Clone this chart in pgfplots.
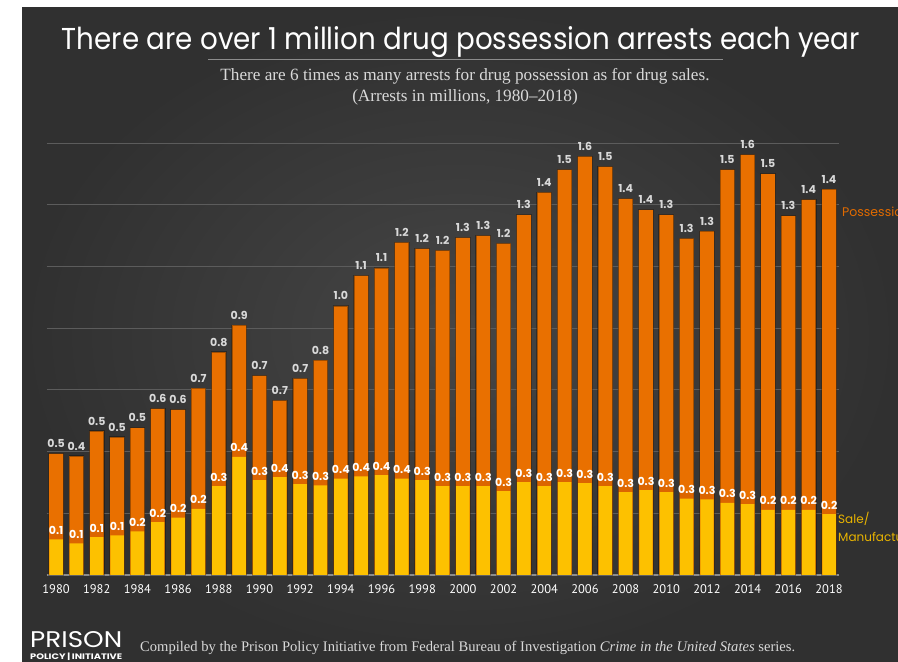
\documentclass[border=0pt]{standalone}
\usepackage{fontspec}
\setmainfont{Liberation Serif}
\newfontfamily\futura{Poppins}
\newfontfamily\yearfont{PT Sans}
\usepackage{pgfplots}
\usepackage{pgfplotstable}
\pgfplotsset{compat=1.18}
\definecolor{bgin}{HTML}{464646}
\definecolor{bgout}{HTML}{303030}
\definecolor{possorange}{HTML}{E97000}
\definecolor{banddark}{HTML}{DC6500}
\definecolor{saleyellow}{HTML}{FDC100}
\definecolor{labgray}{HTML}{D9D9D9}
\definecolor{gridgray}{HTML}{5C5C5C}
\definecolor{basegray}{HTML}{8C8C8C}
\definecolor{legyellow}{HTML}{E9B400}
\definecolor{legorange}{HTML}{E06A00}

\pgfplotstableread{
year sale poss slab plab
1980 0.144 0.348 0.1 0.5
1981 0.128 0.354 0.1 0.4
1982 0.153 0.430 0.1 0.5
1983 0.161 0.398 0.1 0.5
1984 0.177 0.419 0.2 0.5
1985 0.214 0.460 0.2 0.6
1986 0.232 0.438 0.2 0.6
1987 0.268 0.489 0.2 0.7
1988 0.360 0.543 0.3 0.8
1989 0.479 0.533 0.4 0.9
1990 0.384 0.424 0.3 0.7
1991 0.396 0.311 0.4 0.7
1992 0.368 0.428 0.3 0.7
1993 0.363 0.507 0.3 0.8
1994 0.390 0.700 0.4 1.0
1995 0.400 0.813 0.4 1.1
1996 0.405 0.839 0.4 1.1
1997 0.390 0.957 0.4 1.2
1998 0.384 0.938 0.3 1.2
1999 0.360 0.955 0.3 1.2
2000 0.360 1.007 0.3 1.3
2001 0.360 1.015 0.3 1.3
2002 0.340 1.003 0.3 1.2
2003 0.376 1.083 0.3 1.3
2004 0.360 1.190 0.3 1.4
2005 0.376 1.266 0.3 1.5
2006 0.372 1.324 0.3 1.6
2007 0.360 1.294 0.3 1.5
2008 0.336 1.189 0.3 1.4
2009 0.344 1.135 0.3 1.4
2010 0.336 1.123 0.3 1.3
2011 0.309 1.055 0.3 1.3
2012 0.306 1.087 0.3 1.3
2013 0.292 1.350 0.3 1.5
2014 0.287 1.416 0.3 1.6
2015 0.264 1.361 0.2 1.5
2016 0.264 1.191 0.2 1.3
2017 0.264 1.257 0.2 1.4
2018 0.247 1.316 0.2 1.4
}\data

\begin{document}
\begin{tikzpicture}[x=1pt,y=1pt]
\path[use as bounding box] (0,0) rectangle (898,662);
\clip (0,0) rectangle (898,662);
\fill[white] (0,0) rectangle (898,662);
\shade[inner color=bgin, outer color=bgout] (22,0) rectangle (898,654);

% title
\node[text=white, inner sep=0pt, anchor=base] at (461,612)
  {\resizebox{798pt}{23pt}{\futura There are over 1 million drug possession arrests each year}};
\draw[basegray, line width=1pt] (208,602) -- (723,602);
\node[text=labgray, inner sep=0pt, anchor=base] at (465,581)
  {\fontsize{17.2}{20}\selectfont There are 6 times as many arrests for drug possession as for drug sales.};
\node[text=labgray, inner sep=0pt, anchor=base] at (465,560)
  {\fontsize{17.2}{20}\selectfont (Arrests in millions, 1980--2018)};

\begin{axis}[
  at={(46.7pt,87pt)}, anchor=south west,
  scale only axis, width=792.3pt, height=432pt,
  xmin=1979.54, xmax=2018.49, ymin=0, ymax=1.75,
  ybar, bar shift=0pt, bar width=0.71,
  clip=false,
  axis line style={draw=none},
  major tick length=0pt,
  ytick={0.25,0.5,...,1.75}, yticklabels={},
  ymajorgrids, major grid style={draw=gridgray, line width=0.9pt},
  extra y ticks={0}, extra y tick labels={},
  extra y tick style={ymajorgrids=true, major grid style={draw=basegray, line width=1.5pt}},
  xtick={1980,1982,...,2018},
  xticklabels={1980,1982,1984,1986,1988,1990,1992,1994,1996,1998,2000,2002,2004,2006,2008,2010,2012,2014,2016,2018},
  x tick label style={font=\yearfont\fontsize{12.5}{12.5}\selectfont, text=white, yshift=-6pt},
]
% possession stacked on top of sales: bar top = sale + possession
\addplot[fill=possorange, draw=black, draw opacity=0.3, line width=1.2pt, nodes near coords, point meta=explicit symbolic,
  nodes near coords style={font=\futura\bfseries\fontsize{11}{11}\selectfont, text=labgray, anchor=base, yshift=6pt, opacity=1}]
  table[x=year, y expr=\thisrow{sale}+\thisrow{poss}, meta=plab] {\data};
% darker orange band just above the sales segment
\addplot[fill=banddark, draw=none, bar width=0.66]
  table[x=year, y expr=\thisrow{sale}+0.03] {\data};
\addplot[fill=saleyellow, draw=none, bar width=0.66, nodes near coords, point meta=explicit symbolic,
  nodes near coords style={font=\futura\bfseries\fontsize{11}{11}\selectfont, text=white, anchor=base, yshift=5pt}]
  table[x=year, y=sale, meta=slab] {\data};
\end{axis}

% legend labels
\node[text=legorange, anchor=west, inner sep=0pt] at (842,450) {\futura\fontsize{12.5}{12.5}\selectfont Possession};
\node[text=legyellow, anchor=west, inner sep=0pt] at (838,143) {\futura\fontsize{12}{12}\selectfont Sale/};
\node[text=legyellow, anchor=west, inner sep=0pt] at (838,125) {\futura\fontsize{12}{12}\selectfont Manufacture};

% footer
\node[text=white, anchor=base west, inner sep=0pt] at (30,14)
  {\resizebox{92pt}{16pt}{\futura PRISON}};
\node[text=white, anchor=base west, inner sep=0pt] at (30,2.5)
  {\resizebox{92pt}{6.5pt}{\futura\bfseries POLICY\,|\,INITIATIVE}};
\node[text=labgray, anchor=base west, inner sep=0pt] at (140,10)
  {\resizebox{655pt}{!}{\fontsize{14}{16}\selectfont Compiled by the Prison Policy Initiative from Federal Bureau of Investigation \textit{Crime in the United States} series.}};
\end{tikzpicture}
\end{document}
